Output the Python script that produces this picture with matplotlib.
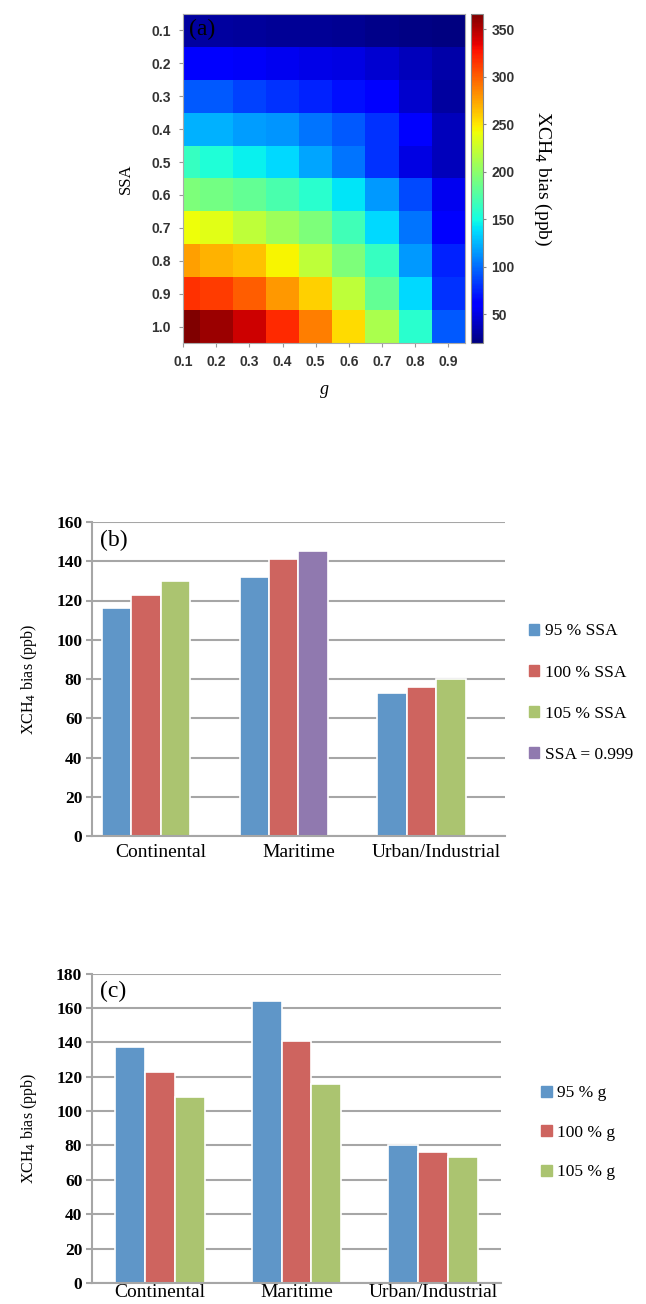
import numpy as np
import matplotlib
matplotlib.use("Agg")
import matplotlib.pyplot as plt
from matplotlib.patches import Patch

# panel (a): XCH4 bias (ppb) vs SSA (rows) and g (columns)
g_vals = [0.1, 0.2, 0.3, 0.4, 0.5, 0.6, 0.7, 0.8, 0.9]
ssa_vals = [0.1, 0.2, 0.3, 0.4, 0.5, 0.6, 0.7, 0.8, 0.9, 1.0]
bias_grid = [
    [30, 30, 29, 28, 27, 26, 24, 22, 21],
    [60, 60, 57, 55, 52, 50, 45, 38, 33],
    [93, 93, 86, 80, 75, 68, 58, 44, 30],
    [124, 124, 117, 114, 103, 93, 80, 58, 38],
    [164, 155, 145, 137, 120, 103, 80, 50, 38],
    [193, 190, 183, 172, 158, 141, 115, 88, 55],
    [241, 235, 221, 207, 193, 168, 137, 103, 58],
    [276, 269, 264, 245, 221, 193, 164, 115, 75],
    [316, 312, 300, 279, 258, 221, 183, 137, 80],
    [366, 357, 342, 319, 288, 254, 212, 158, 93],
]
cbar_ticks = [50, 100, 150, 200, 250, 300, 350]

# panel (b): SSA sensitivity
aerosols = ["Continental", "Maritime", "Urban/Industrial"]
ssa_labels = ["95 % SSA", "100 % SSA", "105 % SSA", "SSA = 0.999"]
ssa_series = [
    [116, 132, 73],
    [123, 141, 76],
    [130, np.nan, 80],
    [np.nan, 145, np.nan],
]
ssa_slots = [0, 1, 2, 2]

# panel (c): g sensitivity
g_labels = ["95 % g", "100 % g", "105 % g"]
g_series = [
    [137, 164, 80],
    [123, 141, 76],
    [108, 116, 73],
]

colors = ["#5F96C8", "#CE645F", "#ABC470", "#9079AF"]
serif = "Liberation Serif"
sans = "Liberation Sans"

fig = plt.figure(figsize=(6.46, 13.04), dpi=100)

# ---------- (a) heatmap ----------
W, H = 646.0, 1304.0
ax_a = fig.add_axes([183 / W, 1 - 343 / H, 282 / W, 329 / H])
g_arr = np.array(g_vals)
s_arr = np.array(ssa_vals)
x_edges = np.append(g_arr - 0.05, g_arr[-1] + 0.05)
y_edges = np.append(s_arr - 0.05, s_arr[-1] + 0.05)
mesh = ax_a.pcolormesh(x_edges, y_edges, np.array(bias_grid), cmap="jet",
                       vmin=20, vmax=366)
ax_a.set_xlim(0.1, 0.95)
ax_a.set_ylim(1.05, 0.05)
ax_a.set_xticks(g_vals)
ax_a.set_xticklabels([f"{v:.1f}" for v in g_vals])
ax_a.set_yticks(ssa_vals)
ax_a.set_yticklabels([f"{v:.1f}" for v in ssa_vals])
for lab in ax_a.get_xticklabels() + ax_a.get_yticklabels():
    lab.set_fontfamily(sans)
    lab.set_fontweight("bold")
    lab.set_fontsize(10)
    lab.set_color("#333333")
ax_a.tick_params(length=3, color="#999999", pad=6)
for sp in ax_a.spines.values():
    sp.set_color("#aaaaaa")
    sp.set_linewidth(0.8)
ax_a.set_ylabel("SSA", fontfamily=serif, fontsize=12, labelpad=12)
ax_a.set_xlabel("g", fontfamily=serif, fontstyle="italic", fontsize=13, labelpad=8)
ax_a.text(0.02, 0.985, "(a)", transform=ax_a.transAxes, fontfamily=serif,
          fontsize=17, va="top", ha="left")

cax = fig.add_axes([471 / W, 1 - 343 / H, 12 / W, 329 / H])
cb = fig.colorbar(mesh, cax=cax)
cb.set_ticks(cbar_ticks)
cb.outline.set_edgecolor("#888888")
cb.outline.set_linewidth(0.8)
cax.tick_params(length=2, color="#888888", pad=4)
for lab in cax.get_yticklabels():
    lab.set_fontfamily(sans)
    lab.set_fontweight("bold")
    lab.set_fontsize(10)
    lab.set_color("#333333")
cb.set_label("XCH$_4$ bias (ppb)", rotation=270, fontfamily=serif, fontsize=14,
             labelpad=28)


def style_bar_axes(ax, ymax, xpad):
    ax.set_ylim(0, ymax)
    ax.set_yticks(np.arange(0, ymax + 1, 20))
    ax.yaxis.grid(True, color="#a6a6a6", linewidth=1.5)
    ax.set_axisbelow(True)
    for side in ["top", "right"]:
        ax.spines[side].set_visible(False)
    ax.spines["left"].set_color("#a6a6a6")
    ax.spines["left"].set_linewidth(1.5)
    ax.spines["bottom"].set_color("#a6a6a6")
    ax.spines["bottom"].set_linewidth(1.5)
    ax.tick_params(axis="y", length=4, width=1.5, color="#a6a6a6", pad=3)
    ax.tick_params(axis="x", length=0, pad=xpad)
    for lab in ax.get_yticklabels():
        lab.set_fontfamily(serif)
        lab.set_fontweight("bold")
        lab.set_fontsize(12.5)
    for lab in ax.get_xticklabels():
        lab.set_fontfamily(serif)
        lab.set_fontsize(14)
    ax.set_ylabel("XCH$_4$ bias (ppb)", fontfamily=serif, fontsize=11.5, labelpad=12)


# ---------- (b) ----------
ax_b = fig.add_axes([92 / W, 1 - 836 / H, 413 / W, 314 / H])
x = np.arange(len(aerosols))
w = 29.5 / 137.7
for k, vals in enumerate(ssa_series):
    ax_b.bar(x + (ssa_slots[k] - 1.5) * w, vals, width=w, color=colors[k],
             edgecolor="white", linewidth=1.2, label=ssa_labels[k])
ax_b.set_xlim(-0.5, 2.5)
ax_b.set_xticks(x)
ax_b.set_xticklabels(aerosols)
style_bar_axes(ax_b, 160, 6)
ax_b.text(0.02, 0.975, "(b)", transform=ax_b.transAxes, fontfamily=serif,
          fontsize=17, va="top", ha="left")
handles_b = [Patch(color=colors[k]) for k in range(4)]
ax_b.legend(handles_b, ssa_labels, loc="center left", bbox_to_anchor=(1.02, 0.455),
            frameon=False, handlelength=0.6, handleheight=0.6, handletextpad=0.3,
            labelspacing=1.45, prop={"family": serif, "size": 12.5})

# ---------- (c) ----------
ax_c = fig.add_axes([92 / W, 1 - 1283 / H, 409 / W, 309.5 / H])
wc = 30.0 / 136.5
for k, vals in enumerate(g_series):
    ax_c.bar(x + (k - 1) * wc, vals, width=wc, color=colors[k],
             edgecolor="white", linewidth=1.2, label=g_labels[k])
ax_c.set_xlim(-0.5, 2.5)
ax_c.set_xticks(x)
ax_c.set_xticklabels(aerosols)
style_bar_axes(ax_c, 180, 1)
ax_c.text(0.02, 0.975, "(c)", transform=ax_c.transAxes, fontfamily=serif,
          fontsize=17, va="top", ha="left")
handles_c = [Patch(color=colors[k]) for k in range(3)]
ax_c.legend(handles_c, g_labels, loc="center left", bbox_to_anchor=(1.06, 0.485),
            frameon=False, handlelength=0.6, handleheight=0.6, handletextpad=0.3,
            labelspacing=1.35, prop={"family": serif, "size": 12.5})

fig.savefig("out.png", dpi=100)
